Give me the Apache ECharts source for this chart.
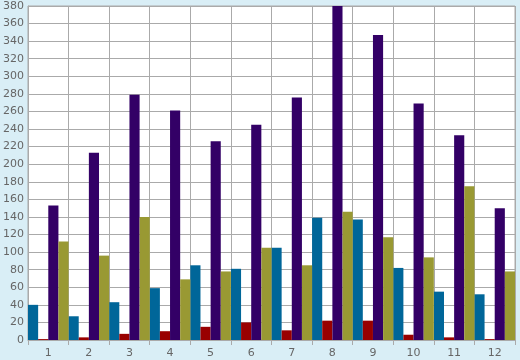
<!DOCTYPE html>
<html><head><meta charset="utf-8">
<script src="https://cdn.jsdelivr.net/npm/echarts@6/dist/echarts.min.js"></script>
<style>html,body{margin:0;padding:0;background:#d9eef6;}#c{width:520px;height:360px;}</style>
</head><body><div id="c"></div>
<script>
var categories = ['1','2','3','4','5','6','7','8','9','10','11','12'];
var blueValues   = [40, 27, 43, 59, 85, 81, 105, 139, 137, 82, 55, 52];
var redValues    = [1, 3, 7, 10, 15, 20, 11, 22, 22, 6, 3, 1];
var purpleValues = [153, 213, 279, 261, 226, 245, 276, 380, 347, 269, 233, 150];
var oliveValues  = [112, 96, 140, 69, 78, 105, 85, 146, 117, 94, 175, 78];
var yTicks = {min: 0, max: 380, step: 20};

var chart = echarts.init(document.getElementById('c'), null, {renderer: 'canvas'});
var gridColor = '#aaaaaa';
var labelStyle = {color: '#666666', fontSize: 11, fontFamily: 'DejaVu Sans'};
function mk(name, data, color) {
  return {name: name, type: 'bar', data: data, barGap: '0%', barCategoryGap: '0%',
    itemStyle: {color: color}, animation: false};
}
chart.setOption({
  backgroundColor: '#d9eef6',
  animation: false,
  grid: {left: 26, right: 5, top: 6, bottom: 20, show: true, backgroundColor: '#ffffff', borderColor: gridColor, borderWidth: 1},
  xAxis: {
    type: 'category', data: categories, boundaryGap: true,
    axisLine: {show: true, lineStyle: {color: gridColor}},
    axisTick: {show: true, interval: 0, length: 5, lineStyle: {color: gridColor}},
    splitLine: {show: true, interval: 0, lineStyle: {color: gridColor}},
    axisLabel: Object.assign({interval: 0, margin: 8}, labelStyle)
  },
  yAxis: {
    type: 'value', min: yTicks.min, max: yTicks.max, interval: yTicks.step,
    axisLine: {show: true, lineStyle: {color: gridColor}},
    axisTick: {show: false},
    splitLine: {show: true, lineStyle: {color: gridColor}},
    axisLabel: Object.assign({margin: 4}, labelStyle)
  },
  series: [
    mk('blue', blueValues, '#006699'),
    mk('red', redValues, '#990000'),
    mk('purple', purpleValues, '#330066'),
    mk('olive', oliveValues, '#999933')
  ]
});
</script></body></html>
